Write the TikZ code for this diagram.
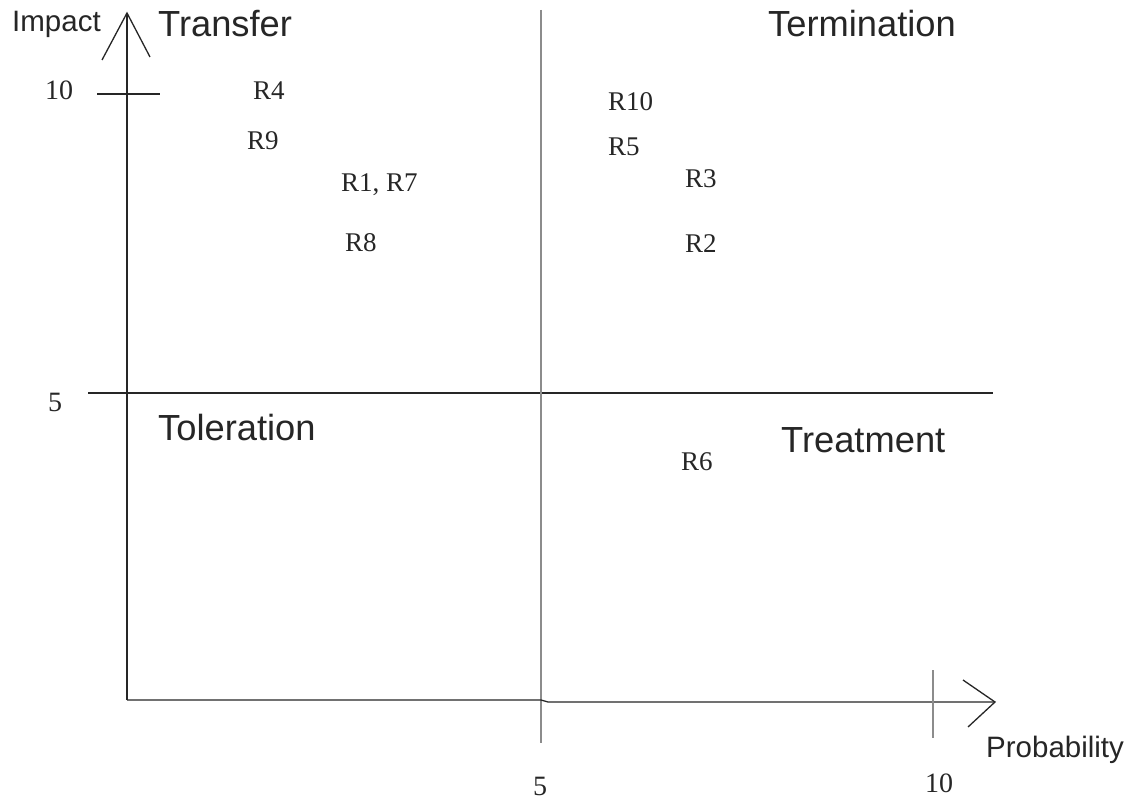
\documentclass[tikz,border=0pt]{standalone}
\usepackage{fontspec}
\setmainfont{Liberation Serif}
\newfontfamily\labelsans{Liberation Sans}
\tikzset{
  axisline/.style={line width=1.3pt, draw=black!85},
  tickline/.style={line width=1.5pt, draw=black!45},
  quad/.style={anchor=base west, inner sep=0pt, font=\labelsans\fontsize{36.3}{40}\selectfont, text=black!85},
  axlabel/.style={anchor=base west, inner sep=0pt, font=\labelsans\fontsize{29.5}{32}\selectfont, text=black!85},
  risk/.style={anchor=base west, inner sep=0pt, font=\fontsize{27}{30}\selectfont, text=black!85},
  num/.style={anchor=base west, inner sep=0pt, font=\fontsize{28}{30}\selectfont, text=black!85},
}
\begin{document}
\begin{tikzpicture}[x=1pt,y=-1pt]
\useasboundingbox[fill=white] (0,0) rectangle (1128,799);
% coordinates
\coordinate (origin) at (127,700);
\coordinate (ytop) at (127,13);
\coordinate (yarmL) at (102,60);
\coordinate (yarmR) at (150,57);
\coordinate (tenL) at (97,94);
\coordinate (tenR) at (160,94);
\coordinate (midL) at (88,393);
\coordinate (midR) at (993,393);
\coordinate (vtop) at (541,10);
\coordinate (vbot) at (541,743);
\coordinate (xmidA) at (541,700);
\coordinate (xmidB) at (548,702);
\coordinate (xend) at (995,702);
\coordinate (xarmU) at (963,680);
\coordinate (xarmD) at (968,727);
\coordinate (xtickT) at (933,670);
\coordinate (xtickB) at (933,738);
% axes
\draw[axisline] (origin) -- (ytop);
\draw[axisline] (yarmL) -- (ytop) -- (yarmR);
\draw[axisline] (tenL) -- (tenR);
\draw[axisline] (midL) -- (midR);
\draw[tickline] (vtop) -- (vbot);
\draw[axisline] (origin) -- (xmidA) -- (xmidB) -- (xend);
\draw[axisline] (xarmU) -- (xend) -- (xarmD);
\draw[tickline] (xtickT) -- (xtickB);
% labels
\node[axlabel] (impact) at (12,32) {Impact};
\node[axlabel] (prob) at (986,757) {Probability};
\node[quad] (transfer) at (158,37) {Transfer};
\node[quad] (termination) at (768,37) {Termination};
\node[quad] (toleration) at (158,441) {Toleration};
\node[quad] (treatment) at (781,453) {Treatment};
% numbers
\node[num] (y10) at (45,100) {10};
\node[num] (y5) at (48,412) {5};
\node[num] (x5) at (533,795) {5};
\node[num] (x10) at (925,792) {10};
% risks
\node[risk] (r4) at (253,100) {R4};
\node[risk] (r9) at (247,150) {R9};
\node[risk] (r17) at (341,192) {R1, R7};
\node[risk] (r8) at (345,252) {R8};
\node[risk] (r10) at (608,111) {R10};
\node[risk] (r5) at (608,156) {R5};
\node[risk] (r3) at (685,188) {R3};
\node[risk] (r2) at (685,253) {R2};
\node[risk] (r6) at (681,471) {R6};
\end{tikzpicture}
\end{document}
